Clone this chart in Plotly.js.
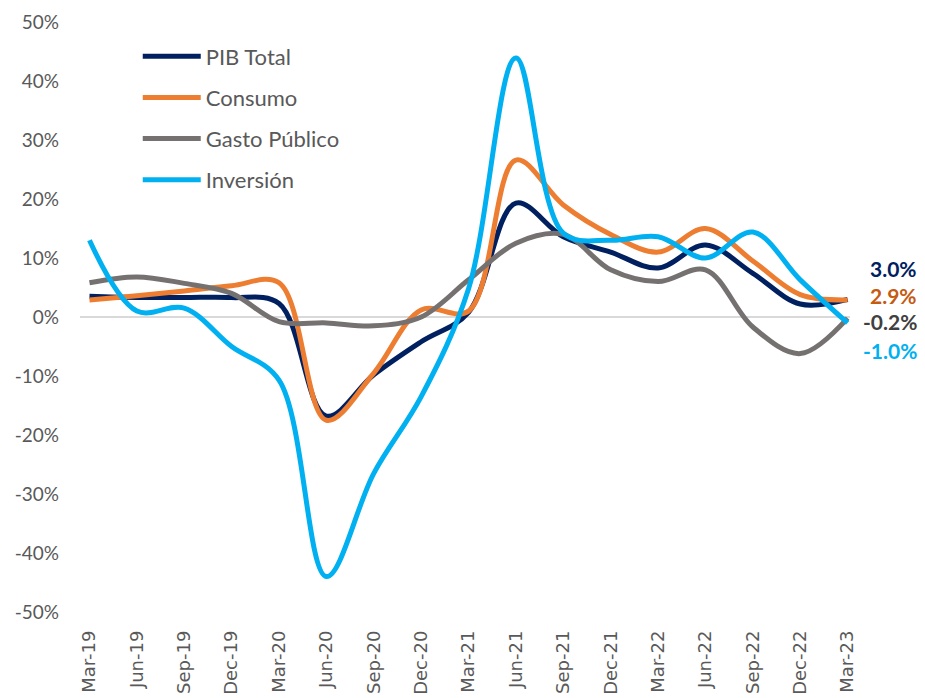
<!DOCTYPE html>
<html>
<head>
<meta charset="utf-8">
<script src="https://cdn.plot.ly/plotly-3.0.1.min.js"></script>
<style>html,body{margin:0;padding:0;background:#fff;}#chart{width:925px;height:698px;}</style>
</head>
<body>
<div id="chart"></div>
<script>
const categories = ["Mar-19","Jun-19","Sep-19","Dec-19","Mar-20","Jun-20","Sep-20","Dec-20","Mar-21","Jun-21","Sep-21","Dec-21","Mar-22","Jun-22","Sep-22","Dec-22","Mar-23"];
const pibTotal  = [3.5, 3.3, 3.3, 3.3, 2.3, -16.8, -9.8, -4.2, 0.8, 19.3, 13.6, 11.0, 8.3, 12.2, 7.4, 2.2, 3.0];
const consumo   = [2.9, 3.6, 4.4, 5.3, 5.8, -17.5, -9.5, 1.2, 1.0, 26.6, 19.0, 14.0, 11.0, 15.0, 9.5, 3.8, 2.9];
const gasto     = [5.8, 6.8, 5.7, 4.0, -0.8, -1.0, -1.5, 0.0, 6.3, 12.5, 14.0, 8.0, 6.0, 8.0, -1.7, -6.2, -0.2];
const inversion = [13.0, 1.0, 1.5, -5.0, -10.7, -44.0, -26.5, -13.5, 4.8, 43.9, 14.2, 13.0, 13.6, 10.0, 14.4, 6.3, -1.0];
const seriesNames = ["PIB Total", "Consumo", "Gasto Público", "Inversión"];
const lastLabels = ["3.0%", "2.9%", "-0.2%", "-1.0%"];

const colors = ["#002060", "#ED7D31", "#767171", "#00B0F0"];
const labelColors = ["#002060", "#C55A11", "#404040", "#00B0F0"];
const labelY = [8.3, 3.6, -0.7, -5.6];
const allSeries = [pibTotal, consumo, gasto, inversion];
const xIdx = categories.map((c, i) => i);

const traces = allSeries.map((vals, k) => ({
  type: "scatter",
  mode: "lines",
  x: xIdx,
  y: vals,
  name: seriesNames[k],
  legendgroup: "g" + k,
  line: {color: colors[k], width: 5, shape: "spline", smoothing: 1},
  hoverinfo: "skip"
}));

const annotations = lastLabels.map((t, k) => ({
  xref: "paper", yref: "y",
  x: 1.09, y: labelY[k],
  xanchor: "right", yanchor: "middle",
  text: "<b>" + t + "</b>",
  showarrow: false,
  font: {family: "Lato, 'Open Sans', sans-serif", size: 21, color: labelColors[k]}
}));

const layout = {
  width: 925, height: 698,
  margin: {l: 80, r: 75, t: 22, b: 86},
  paper_bgcolor: "#ffffff",
  plot_bgcolor: "#ffffff",
  font: {family: "Lato, 'Open Sans', sans-serif", color: "#595959"},
  showlegend: true,
  legend: {
    x: 0.075, y: 0.977, xanchor: "left", yanchor: "top",
    bgcolor: "rgba(0,0,0,0)",
    font: {size: 22, color: "#595959"},
    tracegroupgap: 9.5,
    itemwidth: 58
  },
  xaxis: {
    type: "linear",
    range: [-0.2, 16.05],
    tickmode: "array",
    tickvals: xIdx,
    ticktext: categories,
    tickangle: -90,
    tickfont: {family: "'DejaVu Sans', sans-serif", size: 18, color: "#595959"},
    showgrid: false,
    zeroline: false,
    showline: false,
    ticks: "",
    ticklabelstandoff: 14,
    fixedrange: true
  },
  yaxis: {
    range: [-50, 50],
    tickvals: [-50, -40, -30, -20, -10, 0, 10, 20, 30, 40, 50],
    ticktext: ["-50%", "-40%", "-30%", "-20%", "-10%", "0%", "10%", "20%", "30%", "40%", "50%"],
    tickfont: {size: 19, color: "#595959"},
    showgrid: false,
    zeroline: true,
    zerolinecolor: "#D9D9D9",
    zerolinewidth: 2,
    showline: false,
    ticks: "",
    ticklabelstandoff: 20,
    fixedrange: true
  },
  annotations: annotations
};

Plotly.newPlot("chart", traces, layout, {staticPlot: true, displayModeBar: false});
</script>
</body>
</html>
